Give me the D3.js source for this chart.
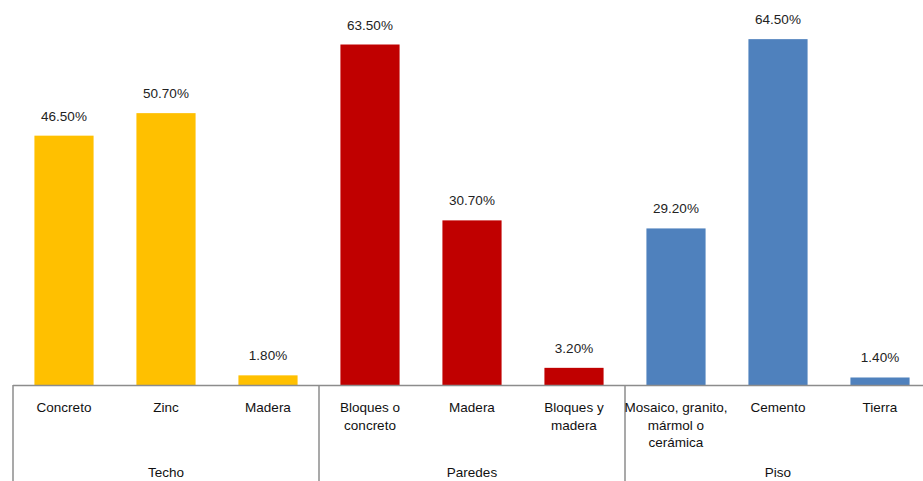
<!DOCTYPE html>
<html>
<head>
<meta charset="utf-8">
<script src="https://cdn.jsdelivr.net/npm/d3@7"></script>
<style>
  body { margin: 0; background: #fff; }
  svg { display: block; font-family: 'Liberation Sans', Arial, sans-serif; }
</style>
</head>
<body>
<svg></svg>
<script>
'use strict'

const categories = [
  'Concreto', 'Zinc', 'Madera',
  'Bloques o\nconcreto', 'Madera', 'Bloques y\nmadera',
  'Mosaico, granito,\nmármol o\ncerámica', 'Cemento', 'Tierra'
]
const values = [46.5, 50.7, 1.8, 63.5, 30.7, 3.2, 29.2, 64.5, 1.4]
const groups = ['Techo', 'Paredes', 'Piso']
const groupColors = ['#FFC000', '#C00000', '#4F81BD']

const width = 923,
  height = 481
const margin = { left: 13, base: 385 }

const data = categories.map((c, i) => ({
  key: i,
  label: c,
  value: values[i],
  group: Math.floor(i / 3)
}))

const svg = d3.select('svg')
  .attr('width', width)
  .attr('height', height)

const xScale = d3
  .scaleBand()
  .domain(data.map(d => d.key))
  .range([margin.left, margin.left + 102 * 9])
  .paddingInner(0.42)
  .paddingOuter(0.21)

const yScale = d3
  .scaleLinear()
  .domain([0, 71.8])
  .range([margin.base, 0])

// bars
svg.selectAll('rect.bar')
  .data(data)
  .enter()
  .append('rect')
  .attr('class', 'bar')
  .attr('x', d => xScale(d.key))
  .attr('width', xScale.bandwidth())
  .attr('y', d => yScale(d.value))
  .attr('height', d => yScale(0) - yScale(d.value))
  .style('fill', d => groupColors[d.group])

// value labels
svg.selectAll('text.value')
  .data(data)
  .enter()
  .append('text')
  .attr('class', 'value')
  .attr('x', d => xScale(d.key) + xScale.bandwidth() / 2)
  .attr('y', d => yScale(d.value) - 15)
  .attr('text-anchor', 'middle')
  .style('font-size', '13.5px')
  .style('fill', '#222')
  .text(d => d3.format('.2f')(d.value) + '%')

// axis line + group separators
const step = xScale.step()
const axisColor = '#8c8c8c'

svg.append('line')
  .attr('x1', margin.left)
  .attr('x2', width)
  .attr('y1', yScale(0) + 0.5)
  .attr('y2', yScale(0) + 0.5)
  .style('stroke', axisColor)
  .style('stroke-width', 1.5)

d3.range(groups.length + 1).forEach(g => {
  const x = margin.left + g * 3 * step
  svg.append('line')
    .attr('x1', x)
    .attr('x2', x)
    .attr('y1', yScale(0))
    .attr('y2', height)
    .style('stroke', axisColor)
    .style('stroke-width', 1.5)
})

// category labels
const catLabels = svg.selectAll('text.cat')
  .data(data)
  .enter()
  .append('text')
  .attr('class', 'cat')
  .attr('text-anchor', 'middle')
  .style('font-size', '13.5px')
  .style('fill', '#111')

catLabels.each(function (d) {
  const cx = xScale(d.key) + xScale.bandwidth() / 2
  d.label.split('\n').forEach((line, i) => {
    d3.select(this)
      .append('tspan')
      .attr('x', cx)
      .attr('y', 412 + i * 17.5)
      .text(line)
  })
})

// group labels
svg.selectAll('text.group')
  .data(groups)
  .enter()
  .append('text')
  .attr('class', 'group')
  .attr('x', (d, i) => margin.left + (i * 3 + 1.5) * step)
  .attr('y', 477)
  .attr('text-anchor', 'middle')
  .style('font-size', '13.5px')
  .style('fill', '#111')
  .text(d => d)
</script>
</body>
</html>
